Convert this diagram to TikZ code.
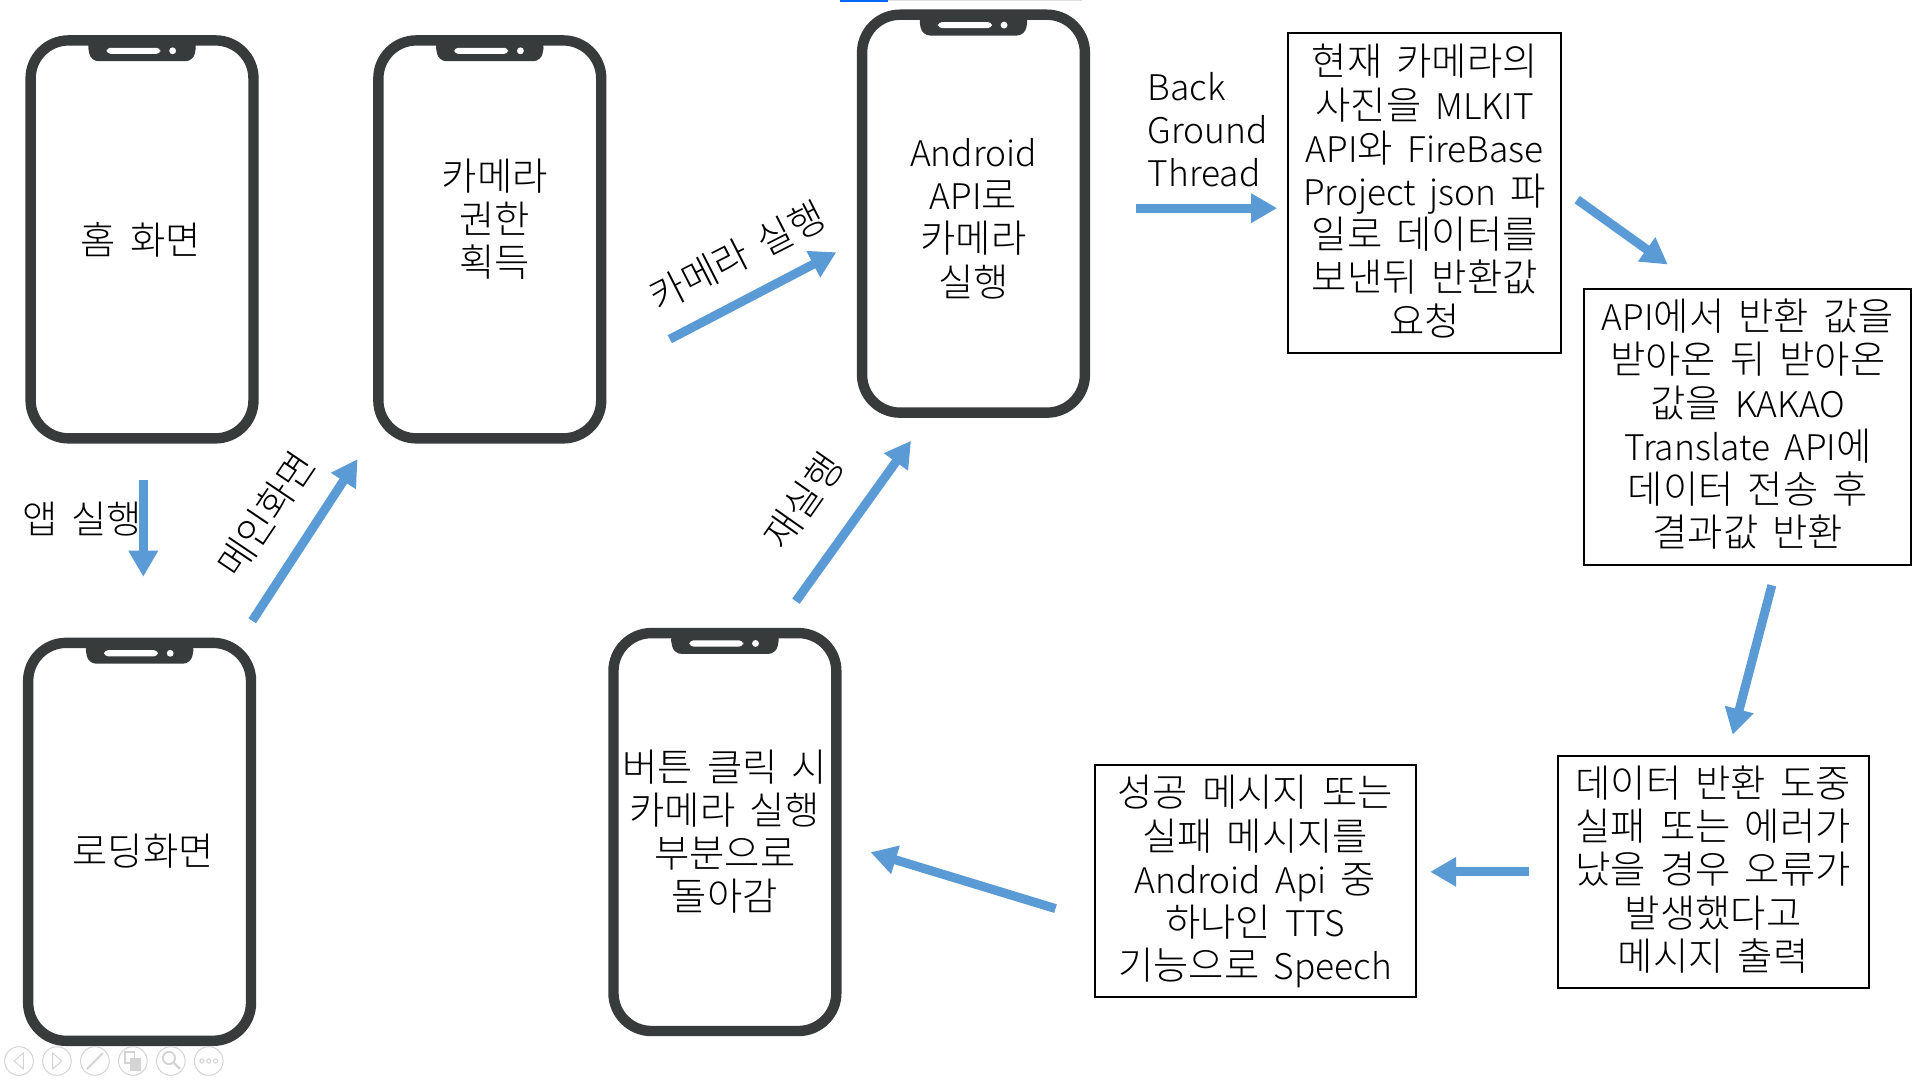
\documentclass[tikz,border=0pt]{standalone}
\usepackage{fontspec}
\setmainfont{Noto Sans CJK KR Light}
\newfontfamily\latf[Scale=0.92]{Noto Sans CJK KR Light}
\newcommand{\la}[1]{{\latf #1}}
\newcommand{\widesp}{\spaceskip 7pt\relax}
\usetikzlibrary{arrows.meta}
\definecolor{phonec}{HTML}{373B3C}
\definecolor{arrowc}{HTML}{5B9BD5}
\definecolor{navc}{HTML}{D4D4D4}
\tikzset{
  txt/.style={align=center,inner sep=0pt,font=\fontsize{19.2}{21.6}\selectfont,execute at begin node=\widesp,text=black},
  box/.style={draw=black,line width=1pt,inner sep=0pt},
  conn/.style={draw=arrowc,line width=4.5pt,-{Triangle[length=13pt,width=14pt]}},
  nav/.style={draw=navc,line width=0.5pt,fill=none},
}
\newcommand{\phonedraw}[2]{%
  \begin{scope}[shift={(#1,#2)}]
    \draw[phonec,line width=5.2pt,rounded corners=19pt,fill=white] (4,4) rectangle (186,329);
    \fill[phonec,rounded corners=4pt] (50,4) -- (53,21) -- (137,21) -- (140,4) -- cycle;
    \fill[white,rounded corners=2pt] (66,10) rectangle (110,15);
    \fill[white] (120,12.5) circle (2.8);
  \end{scope}}
\begin{document}
\begin{tikzpicture}[x=0.61224pt,y=-0.61224pt]
\useasboundingbox (0,0) rectangle (1568,882);
\fill[white] (0,0) rectangle (1568,882);
\fill[black!12] (686,0) rectangle (884,1.2);
\fill[blue!60!cyan] (686,0) rectangle (725,1.6);
\phonedraw{21}{29}
\phonedraw{305}{29}
\phonedraw{700}{8}
\phonedraw{19}{521}
\phonedraw{497}{513}
\node[txt] (homet) at (115,196) {홈 화면};
\node[txt] (permt) at (404,179) {카메라\\권한\\획득};
\node[txt] (camt) at (795,178.5) {\la{Android}\\\la{API}로\\카메라\\실행};
\node[txt] (loadt) at (117,695) {로딩화면};
\node[txt] (backt) at (592,679) {버튼 클릭 시\\카메라 실행\\부분으로\\돌아감};
\node[txt] (l1) at (67,424) {앱 실행};
\node[txt,rotate=56] (l2) at (217,420) {메인화면};
\node[txt,rotate=27] (l3) at (602,209) {카메라 실행};
\node[txt,rotate=55] (l4) at (656,409) {재실행};
\node[txt,align=left,anchor=west] (l5) at (937,106) {\la{Back}\\\la{Ground}\\\la{Thread}};
\node[box,minimum width=136.5pt,minimum height=160pt] (b1) at (1163.5,157.5) {};
\node[box,minimum width=163.5pt,minimum height=137.8pt] (b2) at (1427.5,348.5) {};
\node[box,minimum width=155.5pt,minimum height=116.3pt] (b3) at (1399,712) {};
\node[box,minimum width=160.5pt,minimum height=115.7pt] (b4) at (1025,719.5) {};
\node[txt] (b1t) at (1163.5,156) {현재 카메라의\\사진을 \la{MLKIT}\\\la{API}와 \la{FireBase}\\\la{Project json} 파\\일로 데이터를\\보낸뒤 반환값\\요청};
\node[txt] (b2t) at (1427.5,346.5) {\la{API}에서 반환 값을\\받아온 뒤 받아온\\값을 \la{KAKAO}\\\la{Translate API}에\\데이터 전송 후\\결과값 반환};
\node[txt] (b3t) at (1399,710) {데이터 반환 도중\\실패 또는 에러가\\났을 경우 오류가\\발생했다고\\메시지 출력};
\node[txt] (b4t) at (1025,720) {성공 메시지 또는\\실패 메시지를\\\la{Android Api} 중\\하나인 \la{TTS}\\기능으로 \la{Speech}};
\coordinate (a1s) at (117,392); \coordinate (a1e) at (117,471);
\coordinate (a2s) at (206,507); \coordinate (a2e) at (292,375);
\coordinate (a3s) at (547,277); \coordinate (a3e) at (683,206);
\coordinate (a4s) at (650,491); \coordinate (a4e) at (744,360);
\coordinate (a5s) at (928,170); \coordinate (a5e) at (1043,170);
\coordinate (a6s) at (1288,163); \coordinate (a6e) at (1362,216);
\coordinate (a7s) at (1447,478); \coordinate (a7e) at (1415,600);
\coordinate (a8s) at (1249,712); \coordinate (a8e) at (1168,712);
\coordinate (a9s) at (862,742); \coordinate (a9e) at (711,696);
\foreach \i in {1,...,9} \draw[conn] (a\i s) -- (a\i e);
% viewer toolbar
\foreach \cx in {15.5,46.5,77.5,108.5,139.5,170.5} \draw[nav] (\cx,866.5) circle (11.7);
\draw[nav] (19,860) -- (11.5,866.5) -- (19,873) -- cycle;
\draw[nav] (43,860) -- (50.5,866.5) -- (43,873) -- cycle;
\draw[navc,line width=1pt] (71,873) -- (84,860);
\draw[navc,line width=.8pt] (102,859) rectangle (110,868);
\fill[navc] (106,864) rectangle (115,875);
\draw[nav,line width=.9pt] (138,864) circle (5);
\draw[navc,line width=1.2pt] (142,868) -- (147,873);
\foreach \d in {165,170.5,176} \draw[nav] (\d,866.5) circle (1.7);
\end{tikzpicture}
\end{document}
